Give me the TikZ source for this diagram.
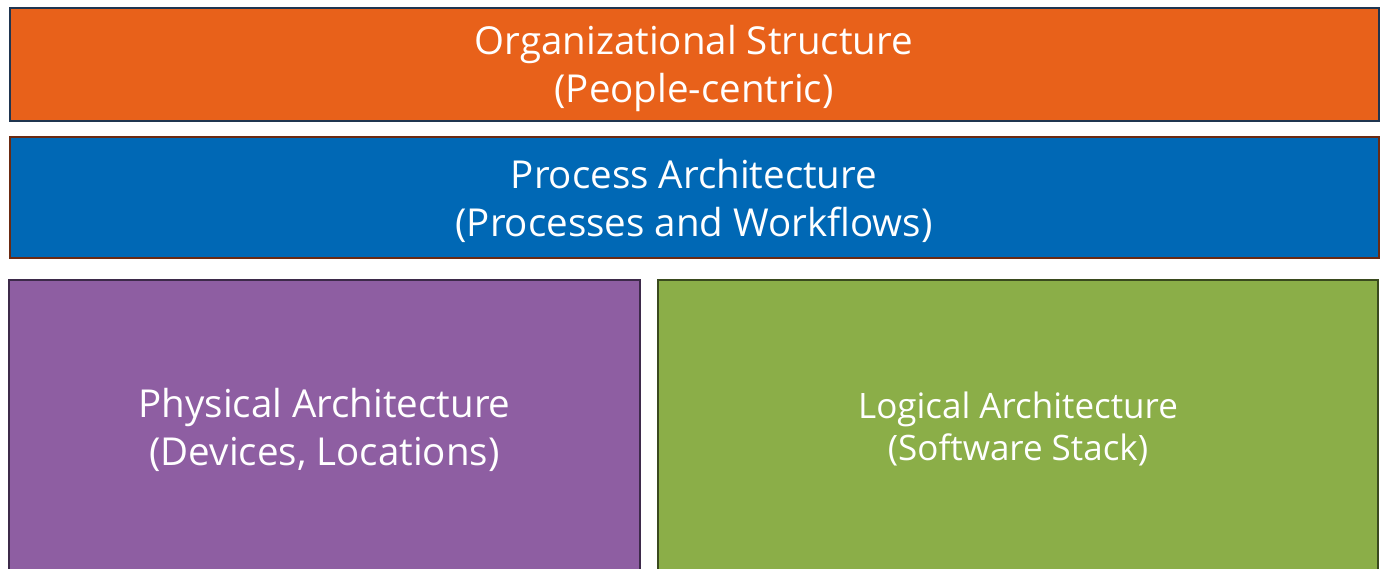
\documentclass[tikz,border=0pt]{standalone}
\usepackage{fontspec}
\setmainfont{Open Sans}
\usepackage{tikz}
\usetikzlibrary{positioning}
\definecolor{orgorange}{HTML}{E8611A}
\definecolor{orgline}{HTML}{1F3550}
\definecolor{procblue}{HTML}{0068B5}
\definecolor{procline}{HTML}{6B2A12}
\definecolor{physpurple}{HTML}{8E5EA2}
\definecolor{physline}{HTML}{3D2A4A}
\definecolor{loggreen}{HTML}{8BAE48}
\definecolor{logline}{HTML}{3A4A1E}

\begin{document}
\begin{tikzpicture}
[x=1pt,y=-1pt,
layer/.style={rectangle,line width=2pt,inner sep=0pt,minimum width=1369pt},
caption/.style={text=white,align=center,inner sep=0pt,font=\fontsize{38.5}{48}\selectfont}]
\useasboundingbox (0,0) rectangle (1380,569);

\node[layer,fill=orgorange,draw=orgline,minimum height=113pt] (org) at (694,65) {};
\node[layer,fill=procblue,draw=procline,minimum height=120pt] (proc) at (694,197.5) {};
\node[layer,fill=physpurple,draw=physline,minimum width=631pt,minimum height=294pt] (phys) at (324.5,427) {};
\node[layer,fill=loggreen,draw=logline,minimum width=720pt,minimum height=294pt] (log) at (1018,427) {};

\node[caption] (orgtext) at (694,69) {Organizational Structure\\(People-centric)};
\node[caption] (proctext) at (694,201) {Process Architecture\\(Processes and Workflows)};
\node[caption] (phystext) at (324.5,430) {Physical Architecture\\(Devices, Locations)};
\node[caption,font=\fontsize{35}{42}\selectfont] (logtext) at (1018,429) {Logical Architecture\\(Software Stack)};
\end{tikzpicture}
\end{document}
